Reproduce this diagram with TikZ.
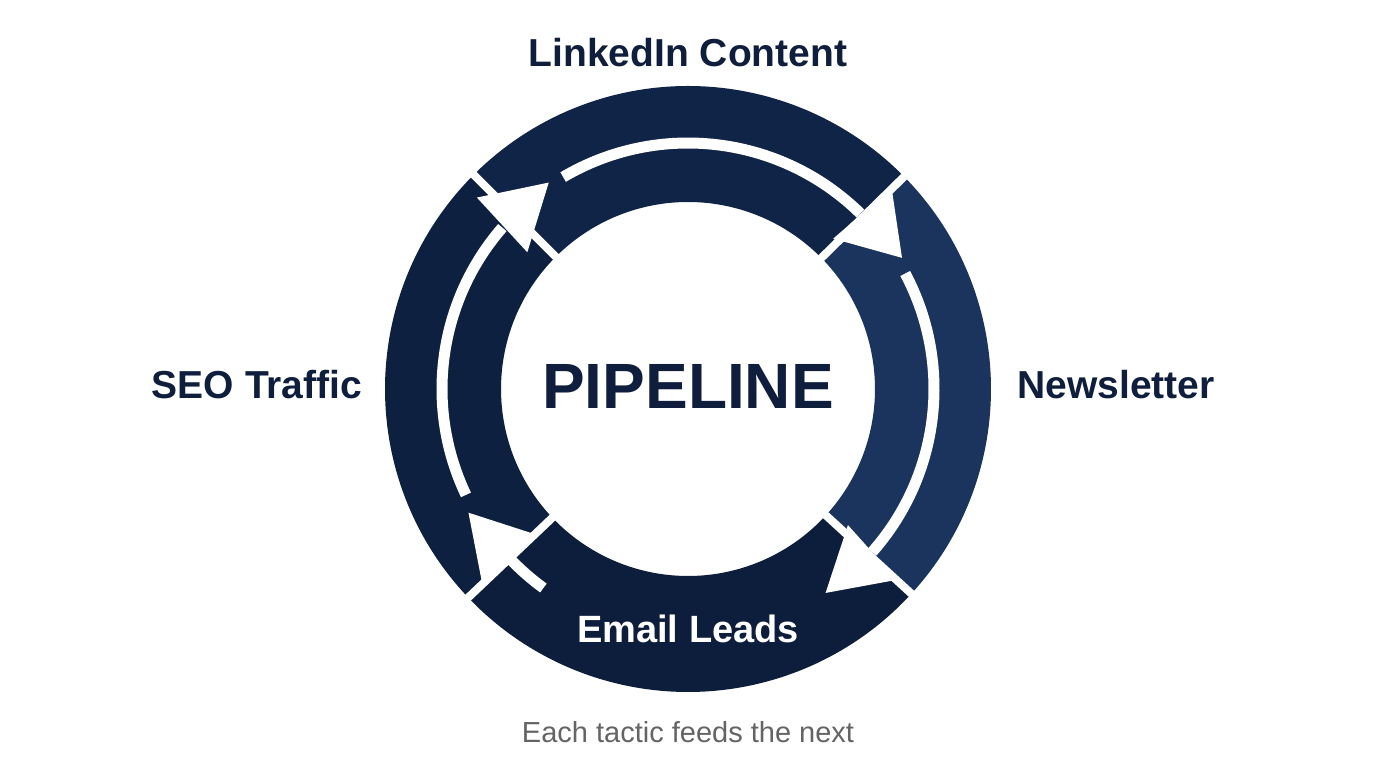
\documentclass[tikz,border=0pt]{standalone}
\usepackage{fontspec}
\setmainfont{Liberation Sans}
\definecolor{navytext}{RGB}{15,30,60}
\definecolor{segtop}{RGB}{16,36,72}
\definecolor{segleft}{RGB}{14,32,64}
\definecolor{segbot}{RGB}{13,30,60}
\definecolor{segright}{RGB}{27,52,94}
\definecolor{subgray}{RGB}{100,100,100}
\tikzset{
  lbl/.style={anchor=base, text=navytext, font=\bfseries\fontsize{39}{39}\selectfont, inner sep=0pt},
  gapline/.style={white, line width=8pt},
  shaft/.style={white, line width=11pt, line cap=butt},
  headfill/.style={fill=white},
}
\newcommand{\sector}[3]{% color, start, end
  \fill[#1] (#2:187pt) arc[start angle=#2, end angle=#3, radius=187pt] -- (#3:303pt) arc[start angle=#3, end angle=#2, radius=303pt] -- cycle;}
\begin{document}
\begin{tikzpicture}[x=1pt,y=1pt]
\fill[white] (0,0) rectangle (1376,768);
\useasboundingbox (0,0) rectangle (1376,768);
\begin{scope}[shift={(688,379)}]
  \sector{segtop}{44.5}{135}
  \sector{segleft}{135}{223.5}
  \sector{segbot}{223.5}{317.5}
  \sector{segright}{-42.5}{44.5}
  % gaps
  \foreach \a in {135,44.5,-42.5,223.5}{\draw[gapline] (\a:180pt) -- (\a:312pt);}
  % shafts
  \draw[shaft] (205.5:246pt) arc[start angle=205.5, end angle=139, radius=246pt];
  \draw[shaft] (120.5:246pt) arc[start angle=120.5, end angle=45.5, radius=246pt];
  \draw[shaft] (28:246pt) arc[start angle=28, end angle=-41.5, radius=246pt];
  \draw[shaft] (234:246pt) arc[start angle=234, end angle=223.8, radius=246pt];
  % arrowheads
  \fill[headfill] (137.8:285pt) -- (124:249pt) -- (139.6:211pt) -- cycle;
  \fill[headfill] (44.6:286pt) -- (31.5:251pt) -- (46:209pt) -- cycle;
  \fill[headfill] (-42.4:283pt) -- (-56:246pt) -- (-40.4:210pt) -- cycle;
  \fill[headfill] (223:282pt) -- (209.4:252pt) -- (224:210pt) -- cycle;
\end{scope}
\node[lbl] (linkedin) at (688,701) {LinkedIn Content};
\node[lbl] (seo) at (257,369) {SEO Traffic};
\node[lbl] (news) at (1116,369) {Newsletter};
\node[lbl, font=\bfseries\fontsize{64}{64}\selectfont] (pipe) at (688,359) {PIPELINE};
\node[lbl, text=white, font=\bfseries\fontsize{38}{38}\selectfont] (email) at (688,125) {Email Leads};
\node[anchor=base, inner sep=0pt, text=subgray, font=\fontsize{29}{29}\selectfont] (sub) at (688,25) {Each tactic feeds the next};
\end{tikzpicture}
\end{document}
